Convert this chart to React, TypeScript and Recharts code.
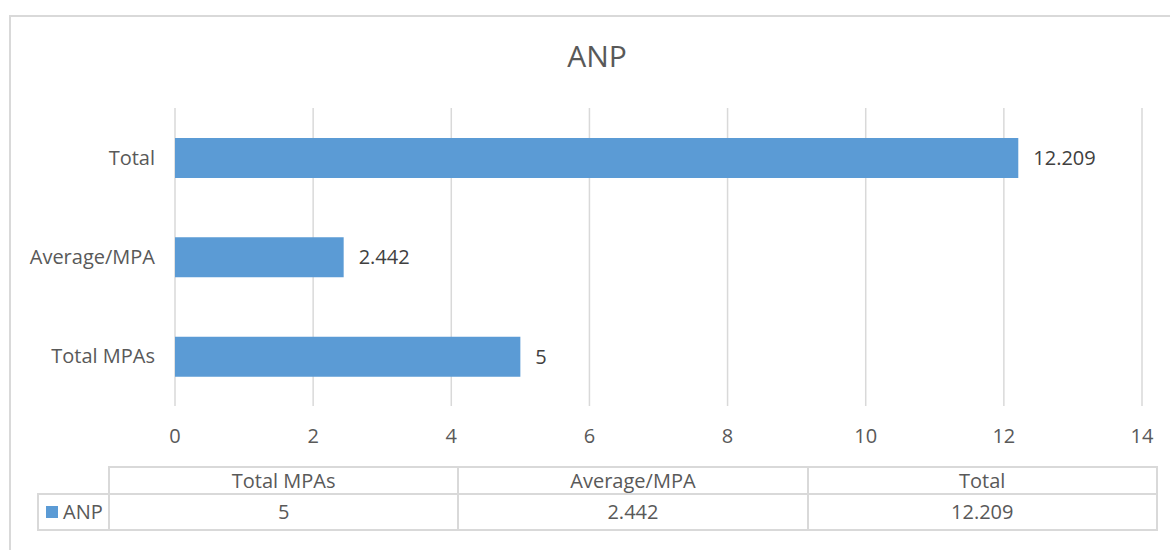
import React from "react";
import { BarChart, Bar, XAxis, YAxis, CartesianGrid, LabelList } from "recharts";

const categories = ["Total MPAs", "Average/MPA", "Total"];
const seriesName = "ANP";
const anpValues = [5, 2.442, 12.209];
const xTicks = [0, 2, 4, 6, 8, 10, 12, 14];
const title = "ANP";

const data = categories.map((c, i) => ({ name: c, value: anpValues[i] }));

const FONT = "'Open Sans', 'DejaVu Sans', sans-serif";
const TEXT = "#595959";
const LINE = "#d9d9d9";
const BLUE = "#5b9bd5";

const tableLeft = 108;
const colW = 349.3;
const headTop = 466;
const headH = 27;
const rowH = 36;

export default function App() {
  return (
    <div
      style={{
        position: "absolute",
        left: 0,
        top: 0,
        width: 1170,
        height: 550,
        overflow: "hidden",
        background: "#fff",
        fontFamily: FONT,
      }}
    >
      <div
        style={{
          position: "absolute",
          left: 9,
          top: 15,
          width: 1200,
          height: 600,
          border: `2px solid ${LINE}`,
          boxSizing: "border-box",
        }}
      />
      <div
        style={{
          position: "absolute",
          left: 0,
          width: 1194,
          top: 36,
          textAlign: "center",
          fontSize: 30,
          color: TEXT,
          lineHeight: "40px",
        }}
      >
        {title}
      </div>
      <div style={{ position: "absolute", left: 0, top: 0 }}>
        <BarChart
          width={1170}
          height={550}
          data={data}
          layout="vertical"
          margin={{ top: 108, right: 28, bottom: 104, left: 10 }}
          barCategoryGap={0}
          barSize={40}
        >
          <CartesianGrid horizontal={false} stroke={LINE} strokeWidth={1.5} />
          <XAxis
            type="number"
            domain={[0, 14]}
            ticks={xTicks}
            axisLine={false}
            tickLine={false}
            tickMargin={17}
            height={40}
            tick={{ fill: TEXT, fontSize: 20, fontFamily: FONT }}
          />
          <YAxis
            type="category"
            dataKey="name"
            reversed
            width={165}
            axisLine={false}
            tickLine={false}
            tickMargin={14}
            tick={{ fill: TEXT, fontSize: 20, fontFamily: FONT }}
          />
          <Bar dataKey="value" name={seriesName} fill={BLUE} isAnimationActive={false}>
            <LabelList
              dataKey="value"
              position="right"
              offset={15}
              fill="#404040"
              fontSize={20}
              fontFamily={FONT}
            />
          </Bar>
        </BarChart>
      </div>
      {/* data table */}
      {categories.map((c, i) => (
        <React.Fragment key={c}>
          <div
            style={{
              position: "absolute",
              left: tableLeft + i * colW,
              top: headTop,
              width: colW + 2,
              height: headH + 2,
              border: `2px solid ${LINE}`,
              boxSizing: "border-box",
              textAlign: "center",
              fontSize: 20,
              lineHeight: `${headH - 2}px`,
              color: TEXT,
            }}
          >
            {c}
          </div>
          <div
            style={{
              position: "absolute",
              left: tableLeft + i * colW,
              top: headTop + headH,
              width: colW + 2,
              height: rowH + 2,
              border: `2px solid ${LINE}`,
              boxSizing: "border-box",
              textAlign: "center",
              fontSize: 20,
              lineHeight: `${rowH - 2}px`,
              color: TEXT,
            }}
          >
            {String(anpValues[i])}
          </div>
        </React.Fragment>
      ))}
      <div
        style={{
          position: "absolute",
          left: 37,
          top: headTop + headH,
          width: tableLeft - 37 + 2,
          height: rowH + 2,
          border: `2px solid ${LINE}`,
          boxSizing: "border-box",
          fontSize: 20,
          lineHeight: `${rowH - 2}px`,
          color: TEXT,
          display: "flex",
          alignItems: "center",
        }}
      >
        <span
          style={{
            display: "inline-block",
            width: 12,
            height: 12,
            background: BLUE,
            marginLeft: 7,
            marginRight: 5,
          }}
        />
        <span>{seriesName}</span>
      </div>
    </div>
  );
}
